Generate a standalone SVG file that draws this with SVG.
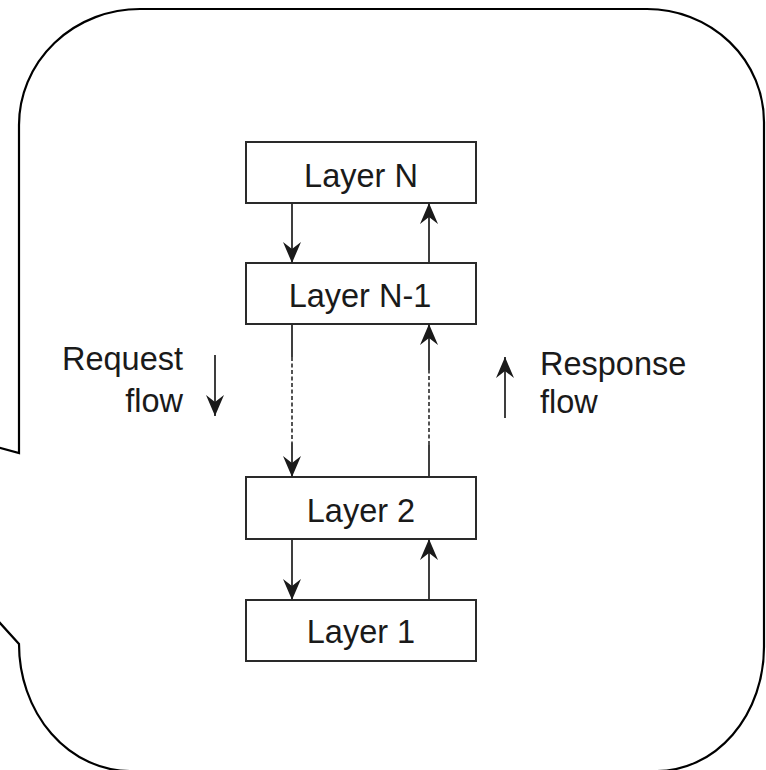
<svg xmlns="http://www.w3.org/2000/svg" width="766" height="770" viewBox="0 0 766 770">
  <defs>
    <marker id="head" markerUnits="userSpaceOnUse" markerWidth="26" markerHeight="24" viewBox="-23 -12 26 24" refX="0" refY="0" orient="auto">
      <path d="M0,0 L-21,-9 L-14,0 L-21,9 Z" fill="#1a1a1a"/>
    </marker>
    <style>
      .frame { fill: #fff; stroke: #000; stroke-width: 2.2; }
      .box rect { fill: #fff; stroke: #2a2a2a; stroke-width: 2; }
      .lbl { font-family: "Liberation Sans", Arial, sans-serif; font-size: 32.5px; fill: #1a1a1a; }
      .wire { fill: none; stroke: #2a2a2a; stroke-width: 1.8; }
      .dash { fill: none; stroke: #2a2a2a; stroke-width: 1.6; stroke-dasharray: 4 2.5; }
    </style>
  </defs>

  <rect width="766" height="770" fill="#fff"/>

  <!-- callout frame with pointer leaving to the left -->
  <path class="frame" d="M140,9 H647 A117,113 0 0 1 764,122 V647 A107,124 0 0 1 657,771 V775 H130 V771 A111,127 0 0 1 19,644 L-208,393 L19,453 V125 A121,116 0 0 1 140,9 Z"/>

  <g id="layer-n" class="box">
    <rect x="246" y="142" width="230" height="61"/>
    <text class="lbl" x="361" y="187" text-anchor="middle">Layer N</text>
  </g>
  <g id="layer-n-1" class="box">
    <rect x="246" y="263" width="230" height="61"/>
    <text class="lbl" x="360" y="307" text-anchor="middle">Layer N-1</text>
  </g>
  <g id="layer-2" class="box">
    <rect x="246" y="477" width="230" height="62"/>
    <text class="lbl" x="361" y="522" text-anchor="middle">Layer 2</text>
  </g>
  <g id="layer-1" class="box">
    <rect x="246" y="600" width="230" height="61"/>
    <text class="lbl" x="361" y="643" text-anchor="middle">Layer 1</text>
  </g>

  <g id="request-label">
    <text class="lbl" x="183" y="370" text-anchor="end">Request</text>
    <text class="lbl" x="183" y="412" text-anchor="end">flow</text>
  </g>
  <g id="response-label">
    <text class="lbl" x="540" y="375">Response</text>
    <text class="lbl" x="540" y="413">flow</text>
  </g>

  <g id="connectors">
    <!-- request path (down) -->
    <line class="wire" x1="292" y1="203" x2="292" y2="263" marker-end="url(#head)"/>
    <line class="wire" x1="292" y1="324" x2="292" y2="357"/>
    <line class="dash" x1="292" y1="357" x2="292" y2="443"/>
    <line class="wire" x1="292" y1="443" x2="292" y2="477" marker-end="url(#head)"/>
    <line class="wire" x1="292" y1="539" x2="292" y2="600" marker-end="url(#head)"/>

    <!-- response path (up) -->
    <line class="wire" x1="429" y1="600" x2="429" y2="539" marker-end="url(#head)"/>
    <line class="wire" x1="429" y1="477" x2="429" y2="445"/>
    <line class="dash" x1="429" y1="445" x2="429" y2="370"/>
    <line class="wire" x1="429" y1="370" x2="429" y2="324" marker-end="url(#head)"/>
    <line class="wire" x1="429" y1="263" x2="429" y2="203" marker-end="url(#head)"/>

    <!-- direction hints -->
    <line class="wire" x1="215" y1="355" x2="215" y2="416" marker-end="url(#head)"/>
    <line class="wire" x1="505" y1="418" x2="505" y2="357" marker-end="url(#head)"/>
  </g>
</svg>
